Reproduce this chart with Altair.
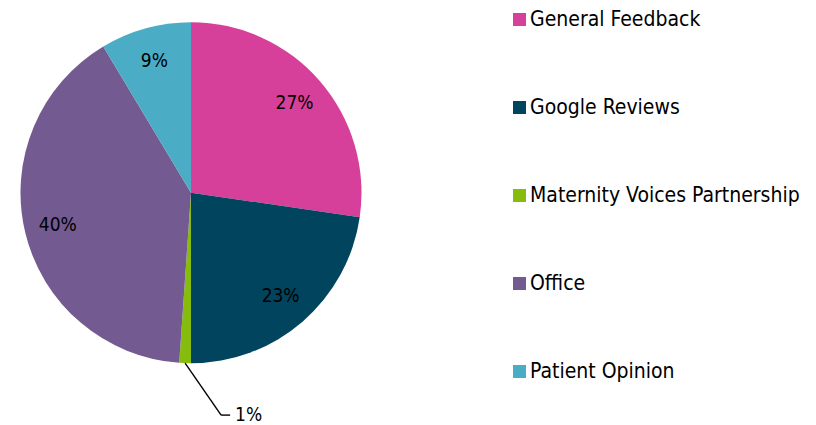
import altair as alt
import pandas as pd

categories = ["General Feedback", "Google Reviews", "Maternity Voices Partnership", "Office", "Patient Opinion"]
values = [27.3, 22.7, 1.1, 40.3, 8.6]
colors = ["#d6409a", "#00445e", "#86bc0d", "#735a90", "#4bacc6"]

df = pd.DataFrame({"category": categories, "value": values, "order": list(range(len(categories)))})

FONT = "DejaVu Sans Condensed"
CX, CY, R = 183, 184.7, 170.5

base = alt.Chart(df).transform_joinaggregate(total="sum(value)").transform_window(
    cum="sum(value)", sort=[alt.SortField("order")], frame=[None, 0]
).transform_calculate(
    pct="datum.value / datum.total",
    label="format(datum.value / datum.total, '.0%')",
    inlabel="datum.value / datum.total > 0.05 ? format(datum.value / datum.total, '.0%') : ''",
    ang="(datum.cum - datum.value / 2) / datum.total * 2 * PI",
)

arcs = base.mark_arc(outerRadius=R).encode(
    theta=alt.Theta("value:Q", stack=True),
    order=alt.Order("order:Q"),
    color=alt.Color(
        "category:N",
        scale=alt.Scale(domain=categories, range=colors),
        legend=alt.Legend(
            title=None,
            orient="none",
            legendX=501,
            legendY=1,
            symbolType="square",
            symbolSize=169,
            symbolStrokeWidth=0,
            symbolOpacity=1,
            labelFontSize=21,
            labelFont=FONT,
            labelColor="#000000",
            labelOffset=0,
            rowPadding=66,
            labelLimit=400,
        ),
    ),
    x=alt.value(CX),
    y=alt.value(CY),
)

texts = base.mark_text(radius=137, fontSize=19, font=FONT, color="#000000").encode(
    theta=alt.Theta("value:Q", stack=True),
    order=alt.Order("order:Q"),
    text="inlabel:N",
    x=alt.value(CX),
    y=alt.value(CY),
)

lead = base.transform_filter("datum.pct <= 0.05").transform_calculate(
    sx=f"{CX} + {R} * sin(datum.ang)",
    sy=f"{CY} - {R} * cos(datum.ang)",
).transform_calculate(
    ex="datum.sx + 36",
    ey="datum.sy + 52",
).transform_calculate(
    hx="datum.ex + 9",
    tx="datum.ex + 14",
)

diag = lead.mark_rule(color="#000000", strokeWidth=1.4).encode(
    x=alt.X("sx:Q", scale=None), y=alt.Y("sy:Q", scale=None),
    x2="ex:Q", y2="ey:Q",
)
horiz = lead.mark_rule(color="#000000", strokeWidth=1.4).encode(
    x=alt.X("ex:Q", scale=None), y=alt.Y("ey:Q", scale=None),
    x2="hx:Q", y2="ey:Q",
)
outlabel = lead.mark_text(align="left", baseline="middle", fontSize=19, font=FONT, color="#000000").encode(
    x=alt.X("tx:Q", scale=None), y=alt.Y("ey:Q", scale=None), text="label:N",
)

chart = alt.layer(arcs, texts, diag, horiz, outlabel).properties(
    width=800, height=417, autosize=alt.AutoSizeParams(type="none"), padding=0
).configure_view(stroke=None)

chart.save("out.html", embed_options={"renderer": "svg", "actions": False})
